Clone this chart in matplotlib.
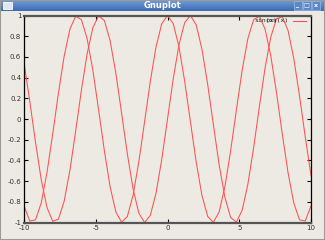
import matplotlib
matplotlib.use("Agg")
import matplotlib.pyplot as plt
import numpy as np
from matplotlib.patches import Rectangle

# samples, step 0.4 from -10 to 10
x_vals = [-10.0, -9.6, -9.2, -8.8, -8.4, -8.0, -7.6, -7.2, -6.8, -6.4,
          -6.0, -5.6, -5.2, -4.8, -4.4, -4.0, -3.6, -3.2, -2.8, -2.4,
          -2.0, -1.6, -1.2, -0.8, -0.4, 0.0, 0.4, 0.8, 1.2, 1.6,
          2.0, 2.4, 2.8, 3.2, 3.6, 4.0, 4.4, 4.8, 5.2, 5.6,
          6.0, 6.4, 6.8, 7.2, 7.6, 8.0, 8.4, 8.8, 9.2, 9.6, 10.0]
sin_vals = [0.544, 0.174, -0.223, -0.585, -0.855, -0.989, -0.968, -0.794, -0.494, -0.117,
            0.279, 0.631, 0.883, 0.996, 0.952, 0.757, 0.443, 0.058, -0.335, -0.675,
            -0.909, -1.000, -0.932, -0.717, -0.389, 0.0, 0.389, 0.717, 0.932, 1.000,
            0.909, 0.675, 0.335, -0.058, -0.443, -0.757, -0.952, -0.996, -0.883, -0.631,
            -0.279, 0.117, 0.494, 0.794, 0.968, 0.989, 0.855, 0.585, 0.223, -0.174, -0.544]
cos_vals = [-0.839, -0.985, -0.975, -0.811, -0.519, -0.146, 0.251, 0.608, 0.869, 0.993,
            0.960, 0.776, 0.469, 0.087, -0.307, -0.654, -0.897, -0.998, -0.942, -0.737,
            -0.416, -0.029, 0.362, 0.697, 0.921, 1.000, 0.921, 0.697, 0.362, -0.029,
            -0.416, -0.737, -0.942, -0.998, -0.897, -0.654, -0.307, 0.087, 0.469, 0.776,
            0.960, 0.993, 0.869, 0.608, 0.251, -0.146, -0.519, -0.811, -0.975, -0.985, -0.839]
series_names = ["sin(x)", "cos(x)"]
x_ticks = [-10, -5, 0, 5, 10]
y_ticks = [-1, -0.8, -0.6, -0.4, -0.2, 0, 0.2, 0.4, 0.6, 0.8, 1]

W, H = 325, 240
bg = "#edeae3"
line_c = "#ff5050"
fig = plt.figure(figsize=(W / 100, H / 100), dpi=100, facecolor=bg)

# window frame
fig.patches.append(Rectangle((0, 0), 1, 1, transform=fig.transFigure,
                             facecolor="none", edgecolor="#9c9a94", lw=1.5))

# title bar with blue gradient
tb = fig.add_axes([0, 1 - 11 / H, 1, 11 / H])
grad = np.linspace(0, 1, 20).reshape(-1, 1)
top_c = np.array([0x6f, 0x9c, 0xd8]) / 255
bot_c = np.array([0x3d, 0x6c, 0xb4]) / 255
img = top_c + (bot_c - top_c) * grad[:, :, None]
tb.imshow(np.repeat(img, 2, axis=1), aspect="auto", extent=[0, 1, 0, 1])
tb.set_xlim(0, 1)
tb.set_ylim(0, 1)
tb.axis("off")
tb.text(0.5, 0.5, "Gnuplot", color="white", fontsize=6, fontweight="bold",
        ha="center", va="center")
# window menu icon
tb.add_patch(Rectangle((3 / W, 0.2), 9 / W, 0.6, facecolor="#dfe6f0", edgecolor="white", lw=0.6))
# buttons
for i, sym in enumerate(["_", "□", "x"]):
    bx = (294 + i * 9) / W
    tb.add_patch(Rectangle((bx, 0.12), 7.5 / W, 0.76, facecolor="#5a88c8",
                           edgecolor="#9dbbe3", lw=0.5))
    tb.text(bx + 3.75 / W, 0.5, sym, color="white", fontsize=4.5, fontweight="bold",
            ha="center", va="center")

# plot area
left, right, top, bottom = 24, 311, 15.5, 222.5
ax = fig.add_axes([left / W, (H - bottom) / H, (right - left) / W, (bottom - top) / H])
ax.set_facecolor(bg)
ax.plot(x_vals, sin_vals, color=line_c, lw=0.75, label=series_names[0])
ax.plot(x_vals, cos_vals, color=line_c, lw=0.75, label=series_names[1])
ax.set_xlim(-10, 10)
ax.set_ylim(-1, 1)
ax.set_xticks(x_ticks)
ax.set_yticks(y_ticks)
ax.set_xticklabels([str(t) for t in x_ticks])
ax.set_yticklabels(["%g" % t for t in y_ticks])
ax.tick_params(direction="in", length=3, width=0.8, labelsize=5, colors="black",
               labelcolor="#333333", top=True, right=True, pad=2)
for side in ["left", "right"]:
    ax.spines[side].set_linewidth(0.9)
    ax.spines[side].set_color("black")
for side in ["top", "bottom"]:
    ax.spines[side].set_linewidth(1.6)
    ax.spines[side].set_color("#555555")

# key: gnuplot drew both titles on top of each other
ax.text(0.803, 0.975, series_names[0], transform=ax.transAxes, fontsize=4.6,
        family="DejaVu Sans Mono", ha="left", va="center", color="#222222")
ax.text(0.840, 0.975, series_names[1], transform=ax.transAxes, fontsize=4.6,
        family="DejaVu Sans Mono", ha="left", va="center", color="#222222")
ax.plot([0.939, 0.981], [0.975, 0.975], transform=ax.transAxes,
        color=line_c, lw=0.75)

fig.savefig("out.png", dpi=100, facecolor=bg)
